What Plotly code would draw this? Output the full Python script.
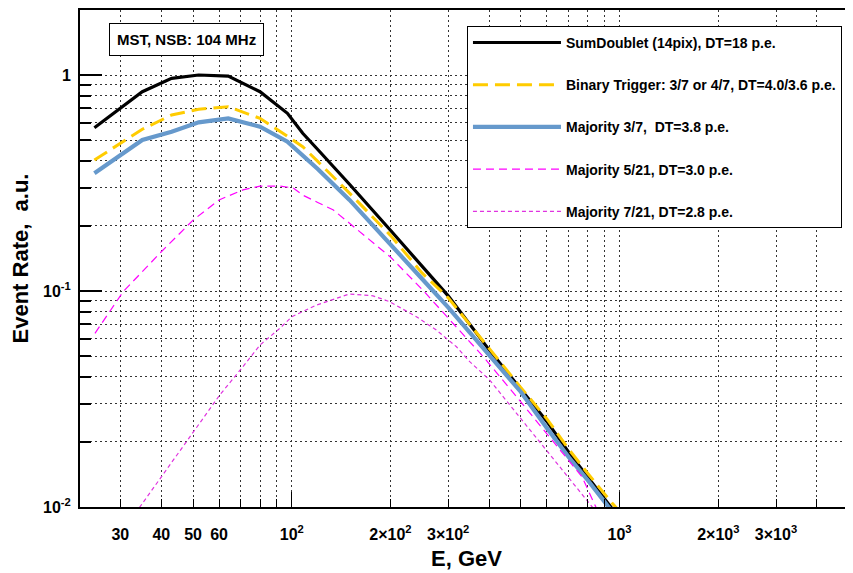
import plotly.graph_objects as go

# energies (GeV) and event rates (a.u.)
e_sumdoublet = [25, 35, 43, 52, 64, 80, 97, 108, 120, 150, 200, 250, 300, 400, 500, 600, 700, 800, 950, 1050]
r_sumdoublet = [0.570, 0.837, 0.965, 1.0, 0.989, 0.837, 0.665, 0.537, 0.452, 0.312, 0.191, 0.130, 0.095,
                0.0534, 0.0351, 0.0249, 0.0179, 0.0137, 0.0098, 0.0082]

e_binary = [25, 35, 43, 52, 64, 80, 97, 108, 120, 150, 200, 250, 300, 400, 500, 600, 700, 800, 950, 1050]
r_binary = [0.404, 0.561, 0.653, 0.694, 0.713, 0.630, 0.520, 0.466, 0.398, 0.284, 0.181, 0.121, 0.093,
            0.054, 0.0357, 0.0256, 0.0185, 0.0143, 0.0104, 0.0088]

e_maj37 = [25, 35, 43, 52, 64, 80, 97, 108, 120, 150, 200, 250, 300, 400, 500, 600, 700, 800, 950, 1050]
r_maj37 = [0.351, 0.500, 0.546, 0.604, 0.630, 0.576, 0.491, 0.426, 0.367, 0.264, 0.1656, 0.1137, 0.084,
           0.0506, 0.0341, 0.0232, 0.0170, 0.0133, 0.0095, 0.0082]

e_maj521 = [25.1, 30.6, 40, 50, 60, 71, 80, 92, 101, 108, 120, 134, 150, 169, 200, 251, 303, 384, 485,
            611, 768, 850, 950]
r_maj521 = [0.0637, 0.0993, 0.152, 0.213, 0.264, 0.294, 0.306, 0.306, 0.300, 0.278, 0.257, 0.237, 0.206,
            0.178, 0.1436, 0.101, 0.0734, 0.0496, 0.0324, 0.0212, 0.0138, 0.00986, 0.0080]

e_maj721 = [30.6, 40, 47.7, 60.3, 71, 80, 92, 100, 119, 150, 177, 199, 240, 276, 318, 349, 401, 598, 810, 900]
r_maj721 = [0.0078, 0.0138, 0.0201, 0.0330, 0.0447, 0.0562, 0.0672, 0.0760, 0.0861, 0.0969, 0.0950,
            0.0892, 0.0760, 0.0660, 0.0552, 0.0471, 0.0388, 0.0184, 0.0104, 0.0085]

labels = ["SumDoublet (14pix), DT=18 p.e.",
          "Binary Trigger: 3/7 or 4/7, DT=4.0/3.6 p.e.",
          "Majority 3/7,\u00a0 DT=3.8 p.e.",
          "Majority 5/21, DT=3.0 p.e.",
          "Majority 7/21, DT=2.8 p.e."]

# axis ticks
x_labeled = [30, 40, 50, 60, 100, 200, 300, 1000, 2000, 3000]
x_text = ["30", "40", "50", "60", "10<sup>2</sup>", "2\u00d710<sup>2</sup>", "3\u00d710<sup>2</sup>",
          "10<sup>3</sup>", "2\u00d710<sup>3</sup>", "3\u00d710<sup>3</sup>"]
x_minor = [70, 80, 90, 400, 500, 600, 700, 800, 900, 4000, 5000]
x_major = [100, 1000]
y_major = [1, 0.1, 0.01]
y_text = ["1", "10<sup>-1</sup>", "10<sup>-2</sup>"]
y_minor = [m * d for d in (0.01, 0.1, 1) for m in range(2, 10)]

FONT = "Liberation Sans, Arial, sans-serif"
GRID = dict(showgrid=True, gridcolor="#333333", griddash="2px,3px", gridwidth=1)

fig = go.Figure()

series = [
    (e_sumdoublet, r_sumdoublet, "#000000", 3.2, "solid"),
    (e_binary, r_binary, "#FFCC00", 3.0, "15px,7px"),
    (e_maj37, r_maj37, "#6699CC", 4.2, "solid"),
    (e_maj521, r_maj521, "#FF00FF", 1.2, "8px,5px"),
    (e_maj721, r_maj721, "#E033E0", 1.2, "4px,3px"),
]
for i, (x, y, col, w, dash) in enumerate(series):
    fig.add_trace(go.Scatter(x=x, y=y, mode="lines", name=labels[i], legendgroup=str(i),
                             line=dict(color=col, width=w, dash=dash)))

# invisible trace so the overlay axis (long decade ticks) gets drawn
fig.add_trace(go.Scatter(x=[100], y=[1], xaxis="x2", mode="markers", opacity=0,
                         showlegend=False, hoverinfo="skip"))

# the page body has an 8px default margin, so margins are shifted by 8px
fig.update_layout(
    width=853, height=573,
    margin=dict(l=72, r=8, t=2, b=74),
    paper_bgcolor="white",
    plot_bgcolor="white",
    font=dict(family=FONT, color="black"),
    xaxis=dict(
        type="log", range=[1.354, 3.712], automargin=False,
        tickmode="array", tickvals=x_labeled, ticktext=x_text,
        ticks="inside", ticklen=8, tickwidth=1, tickcolor="black",
        ticklabelstandoff=12,
        tickfont=dict(size=16, weight="bold"),
        **GRID,
        minor=dict(tickmode="array", tickvals=x_minor, ticks="inside", ticklen=8,
                   tickcolor="black", **GRID),
        showline=True, linecolor="black", linewidth=2, mirror=True,
        zeroline=False,
        title=dict(text="E, GeV", font=dict(size=22, weight="bold"), standoff=8),
    ),
    xaxis2=dict(
        type="log", range=[1.354, 3.712], overlaying="x", anchor="y", side="bottom",
        automargin=False,
        tickmode="array", tickvals=x_major, ticks="inside", ticklen=15, tickwidth=1,
        tickcolor="black", showticklabels=False, showgrid=False, showline=False, zeroline=False,
    ),
    yaxis=dict(
        type="log", range=[-2.0, 0.301], automargin=False,
        tickmode="array", tickvals=y_major, ticktext=y_text,
        ticks="inside", ticklen=22, tickwidth=1.5, tickcolor="black",
        ticklabelstandoff=4,
        tickfont=dict(size=16, weight="bold"),
        **GRID,
        minor=dict(tickmode="array", tickvals=y_minor, ticks="inside", ticklen=11,
                   tickcolor="black", **GRID),
        showline=True, linecolor="black", linewidth=2, mirror=True,
        zeroline=False,
        title=dict(text="Event Rate,\u00a0 a.u.", font=dict(size=22, weight="bold"), standoff=10),
    ),
    legend=dict(
        x=0.5006, y=0.968, xanchor="left", yanchor="top",
        bgcolor="white", bordercolor="black", borderwidth=1,
        font=dict(size=14, weight="bold", color="black"),
        traceorder="grouped", tracegroupgap=21, itemwidth=88,
    ),
    annotations=[dict(
        text="MST, NSB: 104 MHz", xref="paper", yref="paper", x=0.1384, y=0.9416,
        xanchor="center", yanchor="middle", showarrow=False,
        font=dict(size=15, weight="bold", color="black"),
        bordercolor="black", borderwidth=1, borderpad=7, bgcolor="white",
    )],
)

fig.write_html("out.html")
